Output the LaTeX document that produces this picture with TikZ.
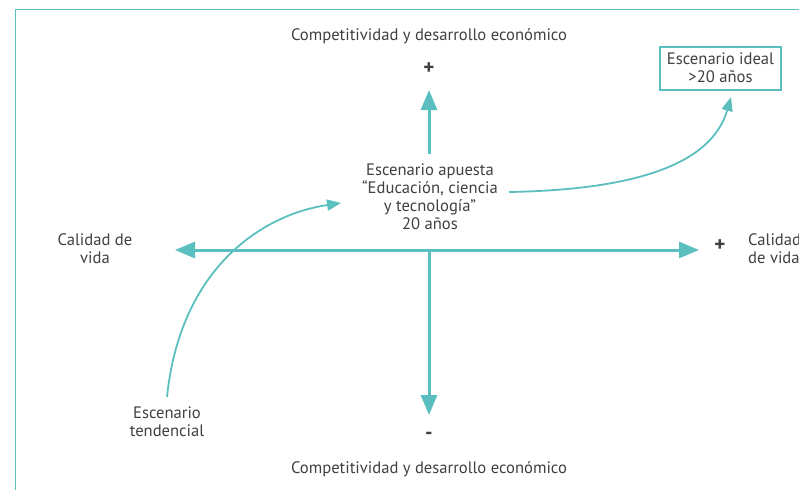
\documentclass[tikz,border=0pt]{standalone}
\usepackage{fontspec}
\setmainfont{PT Sans}
\usetikzlibrary{arrows.meta}
\definecolor{teal1}{HTML}{5BBFBF}
\definecolor{txt}{HTML}{404040}
\begin{document}
\begin{tikzpicture}[x=1pt,y=-1pt,
  lbl/.style={text=txt,font=\fontsize{16.6}{18}\selectfont,align=center,inner sep=0pt},
  sgn/.style={text=txt,font=\fontsize{21}{21}\selectfont\bfseries,inner sep=0pt},
  axis/.style={draw=teal1,line width=3pt,-{Triangle[length=20pt,width=16pt]}},
  curv/.style={draw=teal1,line width=1.8pt,-{Triangle[length=14pt,width=11pt]}}]
\useasboundingbox (0,0) rectangle (799,490);
\draw[teal1,line width=1pt] (15,490) -- (15,9) -- (799,9);
\node[lbl] (ctop) at (429,36) {Competitividad y desarrollo económico};
\node[sgn] (ptop) at (429,69) {+};
\node[lbl] (center) at (430,197) {Escenario apuesta\\“Educación, ciencia\\y tecnología”\\20 años};
\coordinate (o) at (429,250);
\coordinate (c1) at (429,154);
\coordinate (tt) at (429,90);
\coordinate (tb) at (429,415);
\coordinate (tl) at (175,250);
\coordinate (tr) at (699,250);
\draw[axis] (c1) -- (tt);
\draw[axis] (o) -- (tb);
\draw[axis] (o) -- (tl);
\draw[axis] (o) -- (tr);
\node[sgn] (pbot) at (429,436) {-};
\node[lbl] (cbot) at (429,469) {Competitividad y desarrollo económico};
\node[lbl] (cl) at (95,249) {Calidad de\\vida};
\node[sgn] (pr) at (720,246) {+};
\node[lbl,anchor=west,align=left] (cr) at (748,249) {Calidad\\de vida};
\node[lbl] (tend) at (167,422) {Escenario\\tendencial};
\node[lbl,draw=teal1,line width=2pt,minimum width=121pt,minimum height=43pt] (ideal) at (720.5,68) {Escenario ideal\\>20 años};
\coordinate (s1) at (167,397);
\coordinate (e1) at (341,203);
\draw[curv] (s1) .. controls (180,270) and (260,215) .. (e1);
\coordinate (s2) at (509,192);
\coordinate (e2) at (731,97);
\draw[curv] (s2) .. controls (620,190) and (710,170) .. (e2);
\end{tikzpicture}
\end{document}
